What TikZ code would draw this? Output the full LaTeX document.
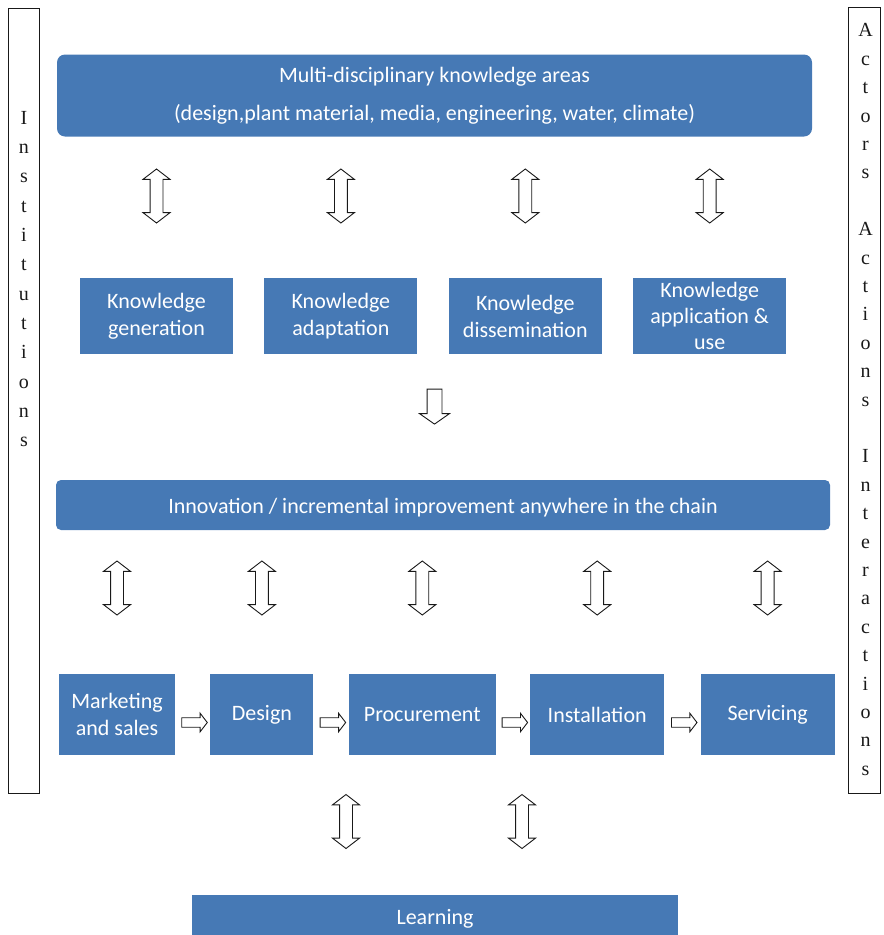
\documentclass[tikz,border=0pt]{standalone}
\usepackage{fontspec}
\setmainfont{Carlito}
\newfontfamily\sidefont{Liberation Serif}
\usepackage{tikz}
\usetikzlibrary{shapes.arrows, positioning, calc}
\definecolor{boxblue}{RGB}{70,121,181}
\definecolor{mydark}{RGB}{25,25,25}
\tikzset{
  bluebox/.style={rectangle, fill=boxblue, text=white, align=center,
    font=\fontsize{22}{27}\selectfont, inner sep=0pt},
  roundbox/.style={bluebox, rounded corners=8pt},
  knowbox/.style={bluebox, minimum width=153pt, minimum height=76pt},
  chainbox/.style={bluebox, minimum height=81pt},
  sidebox/.style={rectangle, draw=mydark, line width=0.9pt, inner sep=0pt},
  sidetext/.style={align=center, inner sep=0pt, text=mydark},
  updown/.style={double arrow, rotate=90, draw=mydark, fill=white,
    line width=0.9pt, inner sep=6pt, minimum height=54pt,
    double arrow head extend=7pt, double arrow tip angle=105},
  downarrow/.style={single arrow, rotate=-90, draw=mydark, fill=white,
    line width=0.9pt, inner sep=7pt, minimum height=35pt,
    single arrow head extend=7.5pt, single arrow tip angle=110},
  rightarrow/.style={single arrow, draw=mydark, fill=white,
    line width=0.9pt, inner sep=4.3pt, minimum height=25.5pt,
    single arrow head extend=4.5pt, single arrow tip angle=105}
}
\begin{document}
\begin{tikzpicture}[x=1pt, y=-1pt]
  \useasboundingbox (0,0) rectangle (884,935);

  % side frames
  \node[sidebox, minimum width=31pt, minimum height=785pt] (inst) at (23.5,400.5) {};
  \node[sidebox, minimum width=32pt, minimum height=786pt] (act) at (864,400) {};
  \node[sidetext, anchor=north, font=\sidefont\fontsize{20}{29.3}\selectfont]
    (insttext) at (24,111) {I\\n\\s\\t\\i\\t\\u\\t\\i\\o\\n\\s};
  \node[sidetext, anchor=north, font=\sidefont\fontsize{20}{28.4}\selectfont]
    (acttext) at (865.5,23.5) {A\\c\\t\\o\\r\\s\\[28.4pt]A\\c\\t\\i\\o\\n\\s\\[28.4pt]%
      I\\n\\t\\e\\r\\a\\c\\t\\i\\o\\n\\s};

  % knowledge areas
  \node[roundbox, minimum width=755pt, minimum height=82pt] (areas) at (434.5,95.5)
    {Multi-disciplinary knowledge areas\\[11pt]
     (design,plant material, media, engineering, water, climate)};

  \node[knowbox] (kgen) at (156.5,316) {Knowledge\\generation};
  \node[knowbox, right=31pt of kgen] (kadapt) {Knowledge\\adaptation};
  \node[knowbox, right=31pt of kadapt] (kdiss) {Knowledge\\dissemination};
  \node[knowbox, right=31pt of kdiss, font=\fontsize{22}{26}\selectfont] (kuse)
    {Knowledge\\application \&\\use};

  \foreach \k in {kgen, kadapt, kdiss, kuse}
    \node[updown] (ud-\k) at (\k |- 0,196) {};

  \node[downarrow] (down) at (434.5,404) {};

  % innovation
  \node[roundbox, rounded corners=5pt, minimum width=774pt, minimum height=50pt,
    text height=20pt] (innov) at (443,505)
    {Innovation / incremental improvement anywhere in the chain};

  % value chain
  \node[chainbox, minimum width=116pt] (mark) at (117,714.5) {Marketing\\and sales};
  \node[chainbox, minimum width=103pt, right=35pt of mark] (design) {Design};
  \node[chainbox, minimum width=147pt, right=35pt of design] (procure) {Procurement};
  \node[chainbox, minimum width=134pt, right=34pt of procure] (install) {Installation};
  \node[chainbox, minimum width=134pt, right=36pt of install] (service) {Servicing};

  \foreach \c in {mark, design, procure, install, service}
    \node[updown] (ud-\c) at (\c |- 0,588) {};

  \foreach \a/\b in {mark/design, design/procure, procure/install, install/service}
    \node[rightarrow] (ra-\a) at ($(\a.east)!0.5!(\b.west)+(0,8)$) {};

  % learning
  \node[bluebox, minimum width=486pt, minimum height=40pt, text height=22pt]
    (learn) at (435,915) {Learning};
  \node[updown] (ud-left) at ([xshift=-89pt]learn |- 0,821.5) {};
  \node[updown] (ud-right) at ([xshift=87pt]learn |- 0,821.5) {};
\end{tikzpicture}
\end{document}
